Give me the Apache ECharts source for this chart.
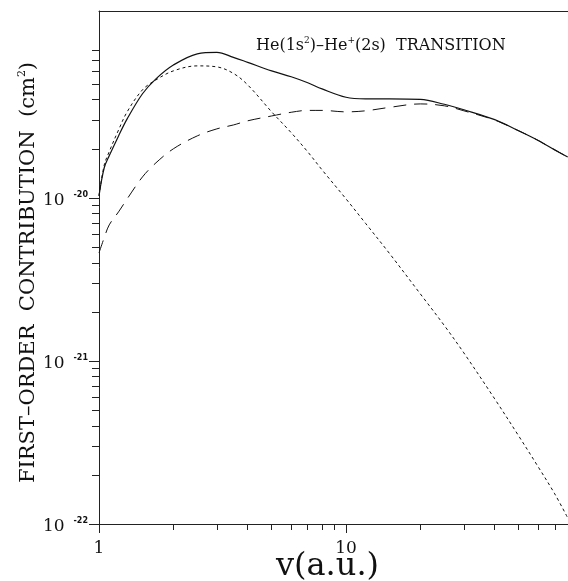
<!DOCTYPE html>
<html>
<head>
<meta charset="utf-8">
<script src="https://cdn.jsdelivr.net/npm/echarts@6/dist/echarts.min.js"></script>
<style>
  * { margin: 0; padding: 0; }
  html, body { background: #fff; }
</style>
</head>
<body>
<div id="chart" style="width:568px;height:581px;"></div>
<script>
// velocity v (a.u.)
const velocity = [1, 1.05, 1.1, 1.2, 1.3, 1.5, 1.7, 2, 2.5, 3, 3.5, 4, 5, 6, 7, 8, 10, 12, 15, 20, 25, 30, 40, 50, 60, 70, 79];
// cross sections in units of 1e-20 cm^2
const total = [1.03, 1.53, 1.81, 2.40, 3.05, 4.35, 5.37, 6.53, 7.65, 7.81, 7.28, 6.78, 6.01, 5.53, 5.08, 4.66, 4.14, 4.05, 4.05, 4.02, 3.75, 3.47, 3.02, 2.58, 2.25, 1.97, 1.78];
const shortDash = [1.03, 1.59, 1.92, 2.61, 3.37, 4.60, 5.29, 6.01, 6.45, 6.36, 5.80, 4.93, 3.37, 2.51, 1.915, 1.485, 0.986, 0.698, 0.456, 0.2576, 0.165, 0.112, 0.0585, 0.0347, 0.0224, 0.0153, 0.0109];
const longDash = [0.46, 0.57, 0.683, 0.821, 0.986, 1.345, 1.64, 2.0, 2.40, 2.65, 2.80, 2.97, 3.18, 3.35, 3.44, 3.44, 3.37, 3.42, 3.59, 3.77, 3.67, 3.42, 3.00, 2.58, 2.25, 1.97, 1.78];

// ticks
const xMajor = [1, 10];
const xMinor = [2, 3, 4, 5, 6, 7, 8, 9, 20, 30, 40, 50, 60, 70];
const yMajor = [0.01, 0.1, 1];
const yMinor = [0.02, 0.03, 0.04, 0.05, 0.06, 0.07, 0.08, 0.09,
                0.2, 0.3, 0.4, 0.5, 0.6, 0.7, 0.8, 0.9,
                2, 3, 4, 5, 6, 7, 8];
const unitExp = -20;

const serif = 'DejaVu Serif';
let chart = echarts.init(document.getElementById('chart'));

function pairs(ys) {
    return velocity.map(function (v, i) { return [v, ys[i]]; });
}

const xRange = { type: 'log', logBase: 10, min: 1, max: 79.2, gridIndex: 0 };
const yRange = { type: 'log', logBase: 10, min: 0.01, max: 14.0, gridIndex: 0 };

function curve(name, ys, width, dash) {
    return {
        name: name,
        type: 'line',
        data: pairs(ys),
        smooth: 0.35,
        showSymbol: false,
        symbol: 'none',
        lineStyle: { color: '#111', width: width, type: dash }
    };
}

let option = {
    animation: false,
    backgroundColor: '#fff',
    grid: { left: 99, right: 0, top: 11, bottom: 57, outerBoundsMode: 'none', containLabel: false },
    title: {
        text: 'He(1s{sup|2})\u2013He{sup|+}(2s)  TRANSITION',
        left: 251,
        top: 31,
        textStyle: {
            fontFamily: serif,
            fontWeight: 'normal',
            fontSize: 16,
            color: '#111',
            rich: {
                sup: { fontFamily: serif, fontSize: 9, color: '#111', padding: [0, 0, 10, 0] }
            }
        }
    },
    xAxis: [
        Object.assign({}, xRange, {
            position: 'bottom',
            name: 'v(a.u.)',
            nameLocation: 'middle',
            nameGap: 27,
            nameMoveOverlap: false,
            nameTextStyle: { fontFamily: serif, fontSize: 32, color: '#111', padding: [0, 12, 0, 0] },
            axisLine: { show: true, lineStyle: { color: '#222', width: 1 } },
            axisTick: { show: true, customValues: xMajor, length: 9, lineStyle: { color: '#222' } },
            axisLabel: {
                customValues: xMajor,
                margin: 16,
                fontFamily: serif,
                fontSize: 17,
                color: '#111'
            },
            splitLine: { show: false }
        }),
        Object.assign({}, xRange, {
            position: 'bottom',
            axisLine: { show: false },
            axisTick: { show: true, customValues: xMinor, length: 6, lineStyle: { color: '#222' } },
            axisLabel: { show: false },
            splitLine: { show: false }
        }),
        Object.assign({}, xRange, {
            position: 'top',
            axisLine: { show: true, lineStyle: { color: '#222', width: 1 } },
            axisTick: { show: false },
            axisLabel: { show: false },
            splitLine: { show: false }
        })
    ],
    yAxis: [
        Object.assign({}, yRange, {
            position: 'left',
            name: 'FIRST\u2013ORDER  CONTRIBUTION  (cm{sup|2})',
            nameLocation: 'middle',
            nameGap: 59,
            nameMoveOverlap: false,
            nameTextStyle: {
                fontFamily: serif, fontSize: 21, color: '#111', padding: [0, 10, 0, 0],
                rich: { sup: { fontFamily: serif, fontSize: 11, color: '#111', padding: [0, 0, 12, 0] } }
            },
            axisLine: { show: true, lineStyle: { color: '#222', width: 1 } },
            axisTick: { show: true, customValues: yMajor, length: 10, lineStyle: { color: '#222' } },
            axisLabel: {
                customValues: yMajor,
                margin: 11,
                formatter: function (value) {
                    let e = Math.round(Math.log10(value)) + unitExp;
                    return '{m|10}{e|' + e + '}';
                },
                rich: {
                    m: { fontFamily: serif, fontSize: 17, color: '#111', padding: [6, 0, 0, 0] },
                    e: { fontFamily: 'DejaVu Sans', fontWeight: 'bold', fontSize: 8, color: '#111', padding: [0, 0, 6, 9] }
                }
            },
            splitLine: { show: false }
        }),
        Object.assign({}, yRange, {
            position: 'left',
            axisLine: { show: false },
            axisTick: { show: true, customValues: yMinor, length: 7, lineStyle: { color: '#222' } },
            axisLabel: { show: false },
            splitLine: { show: false }
        })
    ],
    series: [
        curve('total', total, 1.2, 'solid'),
        curve('short dashed', shortDash, 1, [3, 3]),
        curve('long dashed', longDash, 1, [13, 8])
    ]
};
chart.setOption(option);
</script>
</body>
</html>
